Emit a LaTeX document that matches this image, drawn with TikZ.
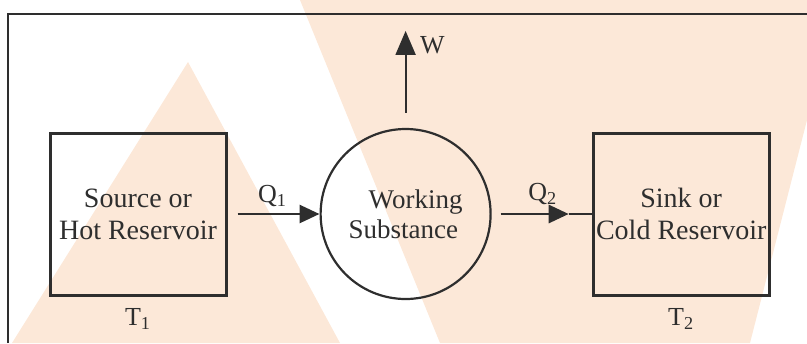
\documentclass[tikz,border=0pt]{standalone}
\usepackage{fontspec}
\setmainfont{Liberation Serif}
\newfontfamily\diagfont{Liberation Serif}
\usetikzlibrary{arrows.meta, positioning}
\definecolor{inkc}{HTML}{2E2E2E}
\definecolor{markc}{HTML}{FCE8D8}

\begin{document}
\begin{tikzpicture}[
  x=0.5pt, y=-0.5pt,
  resv/.style={draw=inkc, line width=1.5pt, minimum width=88pt, minimum height=81pt, align=center, inner sep=0pt, text=inkc, font=\diagfont\fontsize{14}{16}\selectfont},
  subst/.style={draw=inkc, circle, line width=1.1pt, minimum size=85pt, align=left, inner sep=0pt, text=inkc, font=\diagfont\fontsize{13.5}{15}\selectfont},
  lbl/.style={inner sep=1pt, font=\diagfont\fontsize{13}{15}\selectfont, text=inkc},
  flow/.style={-{Triangle[length=10pt, width=9pt]}, line width=1.4pt, draw=inkc},
  wflow/.style={-{Triangle[length=12pt, width=10pt]}, line width=1pt, draw=inkc},
  node distance=46pt
]
\useasboundingbox (0,0) rectangle (807,343);
% watermark
\fill[markc] (188,62) -- (12,343) -- (340,343) -- cycle;
\fill[markc] (300,0) -- (807,0) -- (807,120) -- (750,343) -- (440,343) -- cycle;
% frame
\draw[inkc, line width=1.2pt] (8,343) -- (8,14) -- (807,14);

\node[resv] (hot) at (138,214) {Source or\\ Hot Reservoir};
\node[subst, right=46pt of hot] (ws) {\hspace*{10pt}Working\\ Substance};
\node[resv, right=50pt of ws] (cold) {Sink or\\ Cold Reservoir};

\node[lbl, below=5pt of hot] (t1) {T\textsubscript{1}};
\node[lbl, below=5pt of cold] (t2) {T\textsubscript{2}};

\coordinate[above=48.5pt of ws.north] (wtop);
\coordinate[left=11.5pt of cold.west] (q2tip);

\draw[flow] ([xshift=5pt]hot.east) -- (ws.west) node[lbl, midway, above=2pt, xshift=-3pt] (q1) {Q\textsubscript{1}};
\draw[flow] ([xshift=4.5pt]ws.east) -- (q2tip) node[lbl, midway, above=3pt, xshift=4pt] (q2) {Q\textsubscript{2}};
\draw[inkc, line width=1.4pt] (q2tip) -- (cold.west);
\draw[wflow] ([yshift=7.5pt]ws.north) -- (wtop);
\node[lbl, right=6pt of wtop, yshift=-7pt] (wl) {W};
\end{tikzpicture}
\end{document}
